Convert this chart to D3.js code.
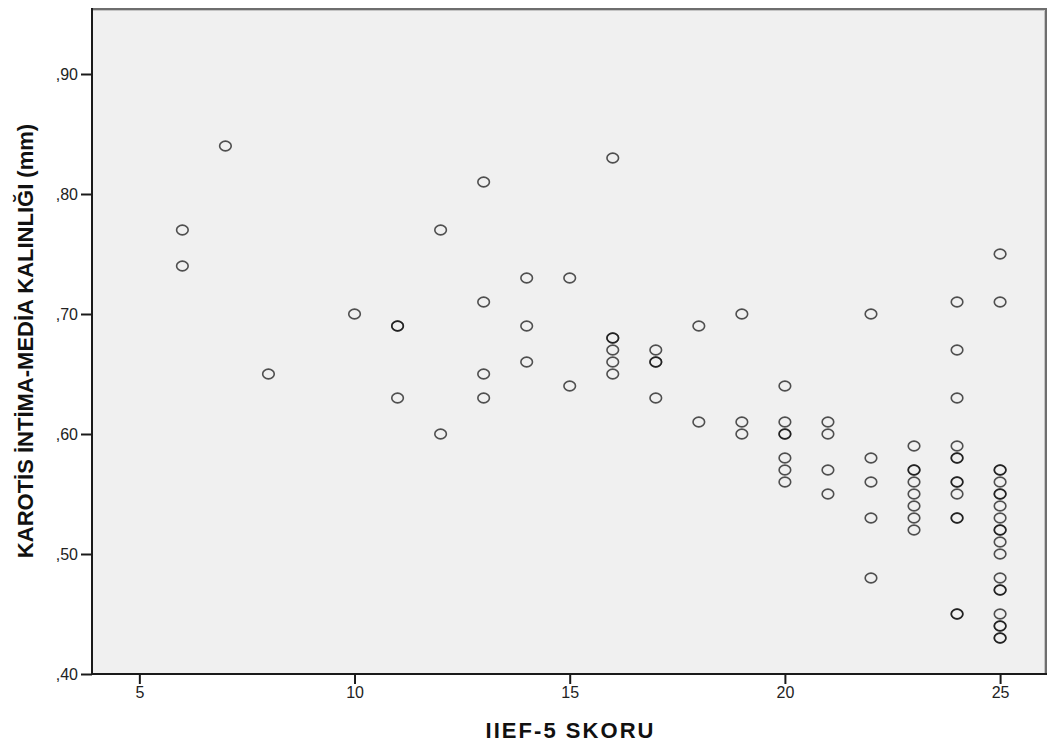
<!DOCTYPE html>
<meta charset="utf-8">
<head>
    <script src="https://d3js.org/d3.v7.min.js"></script>
    <style>
        body { margin: 0; background: #fff; }
        text { font-family: "Liberation Sans", Arial, sans-serif; }
    </style>
</head>
<body>
<div id="chartContainer"></div>
<script type="text/javascript">

    // IIEF-5 score groups and the carotid IMT values (mm) seen at each score
    var scores = [6, 7, 8, 10, 11, 12, 13, 14, 15, 16, 17, 18, 19, 20, 21, 22, 23, 24, 25];
    var thickness = [
        [.77, .74],
        [.84],
        [.65],
        [.70],
        [.69, .69, .63],
        [.77, .60],
        [.81, .71, .65, .63],
        [.73, .69, .66],
        [.73, .64],
        [.83, .68, .68, .67, .66, .65],
        [.67, .66, .66, .63],
        [.69, .61],
        [.70, .61, .60],
        [.64, .61, .60, .60, .58, .57, .56],
        [.61, .60, .57, .55],
        [.70, .58, .56, .53, .48],
        [.59, .57, .57, .56, .55, .54, .53, .52],
        [.71, .67, .63, .59, .58, .58, .56, .56, .55, .53, .53, .45, .45],
        [.75, .71, .57, .57, .56, .55, .55, .54, .53, .52, .52, .51, .50, .48, .47, .47, .45, .44, .44, .43, .43]
    ];
    var xTicks = [5, 10, 15, 20, 25];
    var yTicks = [.40, .50, .60, .70, .80, .90];
    var xTitle = "IIEF-5 SKORU";
    var yTitle = "KAROTİS İNTİMA-MEDİA KALINLIĞI (mm)";

    var W = 1056, H = 746;
    var pLeft = 92, pRight = 1047, pTop = 8, pBottom = 674;

    var points = [];
    scores.forEach(function (s, i) {
        thickness[i].forEach(function (v) { points.push({x: s, y: v}); });
    });

    var svg = d3.select("#chartContainer").append("svg")
        .attr("width", W).attr("height", H);

    var x = d3.scaleLinear().domain([3.9, 26.09]).range([pLeft, pRight]);
    var y = d3.scaleLinear().domain([0.4, 0.955]).range([pBottom, pTop]);

    // plot background
    svg.append("rect")
        .attr("x", pLeft).attr("y", pTop)
        .attr("width", pRight - pLeft).attr("height", pBottom - pTop)
        .attr("fill", "#f0f0f0");

    // top and right frame (grey, double line look)
    svg.append("path")
        .attr("d", "M" + pLeft + "," + (pTop + 1) + "H" + (pRight - 1) + "V" + pBottom)
        .attr("fill", "none").attr("stroke", "#6e6e6e").attr("stroke-width", 2);
    svg.append("path")
        .attr("d", "M" + pLeft + "," + (pTop + 2.5) + "H" + (pRight - 2.5) + "V" + pBottom)
        .attr("fill", "none").attr("stroke", "#c4c4c4").attr("stroke-width", 1);

    // points
    svg.append("g").selectAll("ellipse")
        .data(points)
        .join("ellipse")
        .attr("cx", function (d) { return x(d.x); })
        .attr("cy", function (d) { return y(d.y); })
        .attr("rx", 5.8).attr("ry", 4.9)
        .attr("fill", "none")
        .attr("stroke", "#111")
        .attr("stroke-opacity", 0.72)
        .attr("stroke-width", 1.6);

    var fmtY = function (d) { return d3.format(".2f")(d).replace(/^0/, "").replace(".", ","); };

    var gx = svg.append("g")
        .attr("transform", "translate(0," + pBottom + ")")
        .call(d3.axisBottom(x).tickValues(xTicks).tickSize(10).tickSizeOuter(0).tickPadding(3));
    var gy = svg.append("g")
        .attr("transform", "translate(" + pLeft + ",0)")
        .call(d3.axisLeft(y).tickValues(yTicks).tickFormat(fmtY).tickSize(11).tickSizeOuter(0).tickPadding(3));

    [gx, gy].forEach(function (g) {
        g.attr("font-size", null).attr("font-family", null);
        g.select(".domain").attr("stroke", "#1a1a1a").attr("stroke-width", 2);
        g.selectAll(".tick line").attr("stroke", "#1a1a1a").attr("stroke-width", 2);
        g.selectAll(".tick text")
            .attr("fill", "#222")
            .style("font-size", "16px")
            .style("font-family", "'Liberation Sans', Arial, sans-serif");
    });
    gx.select(".domain").attr("d", "M" + (pLeft - 1) + ",0H" + pRight);
    gy.select(".domain").attr("d", "M0," + pTop + "V" + (pBottom + 1));

    // axis titles
    svg.append("text")
        .attr("x", (pLeft + pRight) / 2).attr("y", 738)
        .attr("text-anchor", "middle")
        .attr("textLength", 168).attr("lengthAdjust", "spacing")
        .style("font-size", "22px").style("font-weight", "bold")
        .attr("fill", "#111")
        .text(xTitle);

    svg.append("text")
        .attr("transform", "translate(33," + (pTop + pBottom) / 2 + ") rotate(-90)")
        .attr("text-anchor", "middle")
        .style("font-size", "22px").style("font-weight", "bold")
        .attr("fill", "#111")
        .text(yTitle);

</script>
</body>
</html>
